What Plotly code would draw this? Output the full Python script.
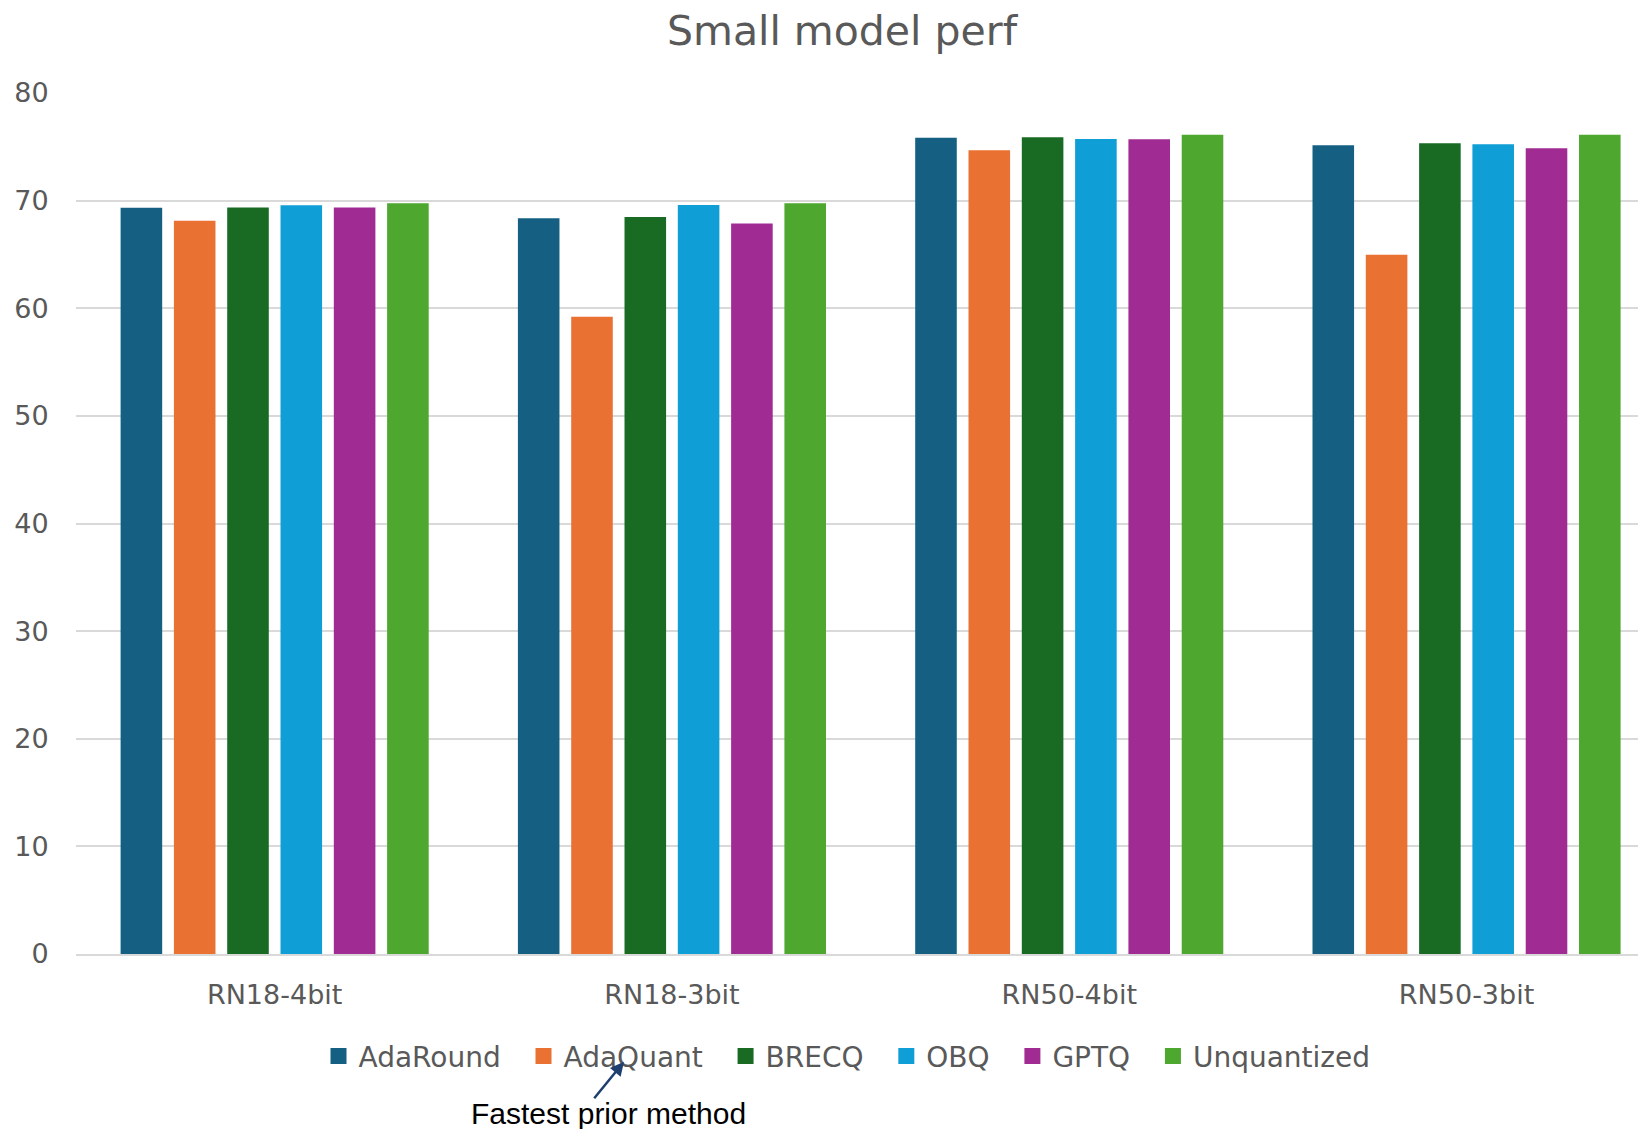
import plotly.graph_objects as go

categories = ["RN18-4bit", "RN18-3bit", "RN50-4bit", "RN50-3bit"]
adaround = [69.34, 68.37, 75.84, 75.14]
adaquant = [68.12, 59.21, 74.68, 64.98]
brecq = [69.37, 68.47, 75.88, 75.32]
obq = [69.56, 69.6, 75.72, 75.24]
gptq = [69.37, 67.88, 75.71, 74.87]
unquantized = [69.76, 69.76, 76.13, 76.13]

series_names = ["AdaRound", "AdaQuant", "BRECQ", "OBQ", "GPTQ", "Unquantized"]
series_values = [adaround, adaquant, brecq, obq, gptq, unquantized]
colors = ["#156082", "#E97132", "#196B24", "#0F9ED5", "#A02B93", "#4EA72E"]

OFF = 8  # page body margin
W, H = 1646 - OFF, 1129 - OFF
L, R = 76 - OFF, 1646 - OFF
T, B = 93.3 - OFF, 954.3 - OFF
group_px = 397.3

def px_x(px):
    return (px - OFF - L) / (R - L)

def px_y(py):
    return (B - (py - OFF)) / (B - T)

fig = go.Figure()
for name, vals, col in zip(series_names, series_values, colors):
    fig.add_trace(go.Bar(x=categories, y=vals, name=name, marker_color=col,
                         marker_line_width=0, showlegend=False))
for name, col in zip(series_names, colors):
    fig.add_trace(go.Scatter(x=[None], y=[None], mode="markers", name=name + "\u00a0\u00a0",
                             marker=dict(symbol="square", size=16, color=col)))

x_end = 3.5 - (L + 4 * group_px - R) / group_px

fig.update_layout(
    width=W, height=H,
    margin=dict(l=L, r=W - R, t=T, b=H - B, pad=0),
    paper_bgcolor="white", plot_bgcolor="white",
    barmode="group", bargap=0.195, bargroupgap=0.22,
    title=dict(text="Small model perf", x=(842 - OFF) / W, xanchor="center",
               y=1 - (30.7 - OFF) / H, yanchor="middle", yref="container",
               font=dict(family="DejaVu Sans", size=41, color="#595959")),
    font=dict(family="DejaVu Sans", color="#595959"),
    xaxis=dict(range=[-0.5, x_end], showgrid=False, showline=True,
               linecolor="#D9D9D9", linewidth=2, ticks="outside", ticklen=16,
               tickcolor="rgba(0,0,0,0)", tickfont=dict(size=27, color="#595959"),
               layer="above traces", fixedrange=True),
    yaxis=dict(range=[0, 80], dtick=10, showgrid=True, gridcolor="rgba(0,0,0,0.15)",
               gridwidth=2, zeroline=False, showline=False, ticks="outside",
               ticklen=21, tickcolor="rgba(0,0,0,0)",
               tickfont=dict(size=27, color="#595959"), layer="above traces"),
    legend=dict(orientation="h", x=px_x(856), xanchor="center",
                y=px_y(1056.5), yanchor="middle",
                font=dict(family="DejaVu Sans", size=28, color="#595959"),
                itemsizing="trace", bgcolor="rgba(0,0,0,0)", tracegroupgap=0),
    annotations=[
        dict(text="Fastest prior method", x=px_x(608), y=px_y(1114),
             xref="paper", yref="paper", xanchor="center", yanchor="middle",
             showarrow=False, font=dict(family="Liberation Sans", size=30, color="black")),
        dict(text="", x=px_x(624), y=px_y(1062), xref="paper", yref="paper",
             showarrow=True, ax=-31, ay=38, arrowhead=2, arrowsize=1.1,
             arrowwidth=2.5, arrowcolor="#1F3F6E", standoff=0, startstandoff=0),
    ],
)

fig.write_html("out.html")
